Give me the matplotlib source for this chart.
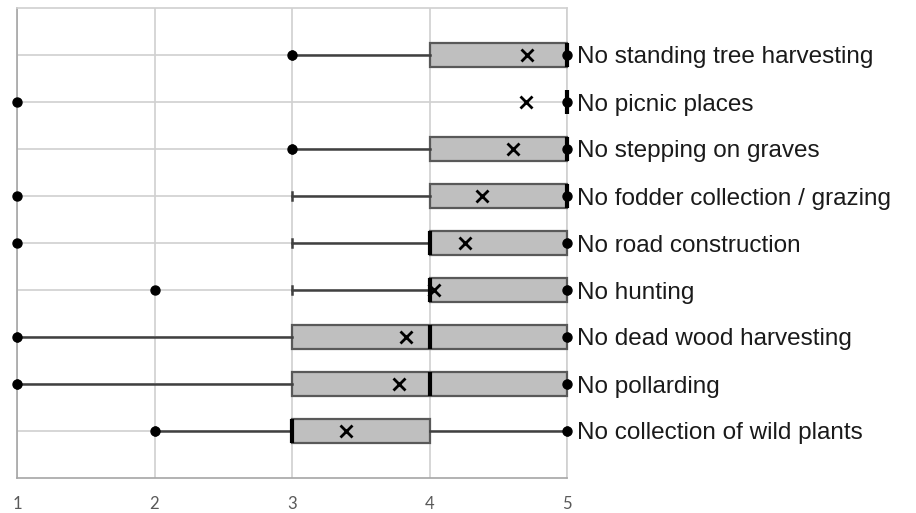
import matplotlib.pyplot as plt

# Rules, listed top to bottom
labels = ["No standing tree harvesting", "No picnic places", "No stepping on graves",
          "No fodder collection / grazing", "No road construction", "No hunting",
          "No dead wood harvesting", "No pollarding", "No collection of wild plants"]

q1 = [4, 5, 4, 4, 4, 4, 3, 3, 3]
median = [5, 5, 5, 5, 4, 4, 4, 4, 3]
q3 = [5, 5, 5, 5, 5, 5, 5, 5, 4]
whisk_lo = [3, 5, 3, 3, 3, 3, 1, 1, 2]
whisk_hi = [5, 5, 5, 5, 5, 5, 5, 5, 5]
mean = [4.71, 4.70, 4.61, 4.38, 4.26, 4.03, 3.83, 3.78, 3.39]
min_pts = [3, 1, 3, 1, 1, 2, 1, 1, 2]
max_pts = [5, 5, 5, 5, 5, 5, 5, 5, 5]

xticks = [1, 2, 3, 4, 5]

fig, ax = plt.subplots(figsize=(9.16, 5.13), dpi=100)
fig.subplots_adjust(left=17/916, right=567/916, bottom=35/513, top=505/513)

pos = list(range(len(labels), 0, -1))
stats = []
for i in range(len(labels)):
    stats.append(dict(med=median[i], q1=q1[i], q3=q3[i], whislo=whisk_lo[i],
                      whishi=whisk_hi[i], mean=mean[i], fliers=[]))

parts = ax.bxp(stats, positions=pos, widths=0.5, orientation="horizontal",
               patch_artist=True, showmeans=True, capwidths=0.17,
               boxprops=dict(facecolor="#BFBFBF", edgecolor="#595959", linewidth=1.6),
               whiskerprops=dict(color="#404040", linewidth=1.8),
               capprops=dict(color="#404040", linewidth=1.8),
               medianprops=dict(color="black", linewidth=3),
               meanprops=dict(marker="x", markeredgecolor="black", markersize=8,
                              markeredgewidth=2))
# boxes end right on the x=5 edge, so don't clip them and keep them over the spines
for name, group in parts.items():
    for artist in group:
        artist.set_clip_on(False)
        artist.set_zorder(4 if name in ("medians", "means") else 3)

ax.scatter(min_pts, pos, s=42, color="black", zorder=5, clip_on=False)
ax.scatter(max_pts, pos, s=42, color="black", zorder=5, clip_on=False)

ax.set_xlim(1, 5)
ax.set_ylim(0, 10)
ax.set_xticks(xticks)
ax.set_xticklabels([str(t) for t in xticks], family="Lato")
ax.set_yticks(pos)
ax.set_yticklabels(labels, family="Liberation Sans", color="#1a1a1a")
ax.yaxis.tick_right()
ax.tick_params(axis="y", length=0, pad=7, labelsize=17.5)
ax.tick_params(axis="x", length=0, pad=13, labelsize=12, labelcolor="#595959")

ax.set_axisbelow(True)
ax.grid(True, color="#D0D0D0", linewidth=1.2)
for side in ["top", "right"]:
    ax.spines[side].set_color("#D0D0D0")
    ax.spines[side].set_linewidth(1.2)
for side in ["left", "bottom"]:
    ax.spines[side].set_color("#A6A6A6")
    ax.spines[side].set_linewidth(1.2)

fig.savefig("out.png", dpi=100)
